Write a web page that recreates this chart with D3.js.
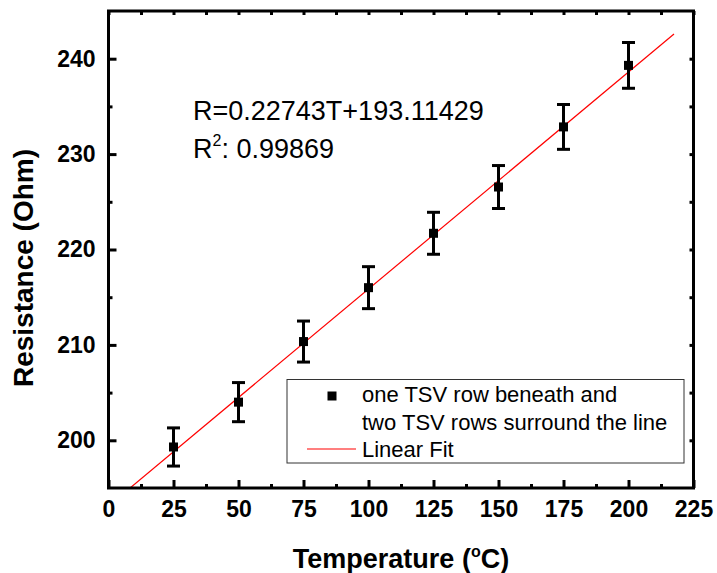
<!DOCTYPE html>
<html>
<head>
<meta charset="utf-8">
<script src="https://cdn.jsdelivr.net/npm/d3@7"></script>
<style>
  html, body { margin: 0; padding: 0; background: #fff; }
  svg { display: block; font-family: "Liberation Sans", Arial, sans-serif; }
</style>
</head>
<body>
<svg id="chart" width="717" height="573"></svg>
<script>
// Measured resistance vs. temperature with error bars
const temperatures = [25, 50, 75, 100, 125, 150, 175, 200];
const resistances  = [199.3, 204.0, 210.35, 216.0, 221.7, 226.55, 232.85, 239.3];
const errors       = [2.0, 2.05, 2.15, 2.2, 2.2, 2.25, 2.35, 2.4];

// Linear fit coefficients
const fitSlope = 0.22743;
const fitIntercept = 193.11429;
const fitRange = [0, 217.5];

const xTicks = [0, 25, 50, 75, 100, 125, 150, 175, 200, 225];
const xMinorTicks = [12.5, 37.5, 62.5, 87.5, 112.5, 137.5, 162.5, 187.5, 212.5];
const yTicks = [200, 210, 220, 230, 240];
const yMinorTicks = [205, 215, 225, 235];

const legendLabels = ["one TSV row beneath and", "two TSV rows surround the line", "Linear Fit"];
const fitLabel = "R=0.22743T+193.11429";
const r2Value = "0.99869";

const svg = d3.select("#chart");
const margin = { left: 108.5, top: 11, right: 717 - 693.5, bottom: 573 - 488 };
const W = 717, H = 573;
const x = d3.scaleLinear().domain([0, 225]).range([margin.left, W - margin.right]);
const y = d3.scaleLinear().domain([195, 245]).range([H - margin.bottom, margin.top]);

const tickFont = "bold 23px 'Liberation Sans', Arial, sans-serif";

// clip for plot contents
svg.append("defs").append("clipPath").attr("id", "plotClip")
  .append("rect")
  .attr("x", x(0)).attr("y", y(245))
  .attr("width", x(225) - x(0)).attr("height", y(195) - y(245));

// fit line
svg.append("line")
  .attr("clip-path", "url(#plotClip)")
  .attr("x1", x(fitRange[0])).attr("y1", y(fitIntercept + fitSlope * fitRange[0]))
  .attr("x2", x(fitRange[1])).attr("y2", y(fitIntercept + fitSlope * fitRange[1]))
  .attr("stroke", "#ff0000").attr("stroke-width", 1.2);

// error bars and markers
const pts = temperatures.map((t, i) => ({ t, r: resistances[i], e: errors[i] }));
const g = svg.append("g");
const capW = 6.5;
pts.forEach(d => {
  const cx = x(d.t);
  const yTop = y(d.r + d.e), yBot = y(d.r - d.e);
  g.append("line").attr("x1", cx).attr("x2", cx).attr("y1", yTop).attr("y2", yBot)
    .attr("stroke", "#000").attr("stroke-width", 3);
  g.append("line").attr("x1", cx - capW).attr("x2", cx + capW).attr("y1", yTop).attr("y2", yTop)
    .attr("stroke", "#000").attr("stroke-width", 3);
  g.append("line").attr("x1", cx - capW).attr("x2", cx + capW).attr("y1", yBot).attr("y2", yBot)
    .attr("stroke", "#000").attr("stroke-width", 3);
  g.append("rect").attr("x", cx - 4.5).attr("y", y(d.r) - 4.5)
    .attr("width", 9).attr("height", 9).attr("fill", "#000");
});

// axes: inward ticks
function styleAxis(sel) {
  sel.select(".domain").remove();
  sel.selectAll("line").attr("stroke", "#000").attr("stroke-width", 3);
}
const xAxis = svg.append("g").attr("transform", `translate(0,${y(195)})`)
  .call(d3.axisBottom(x).tickValues(xTicks).tickSizeInner(-8).tickSizeOuter(0).tickPadding(12.5));
styleAxis(xAxis);
xAxis.selectAll("text").style("font", tickFont).attr("fill", "#000");

const xMinor = svg.append("g").attr("transform", `translate(0,${y(195)})`)
  .call(d3.axisBottom(x).tickValues(xMinorTicks).tickSizeInner(-4).tickSizeOuter(0).tickFormat(""));
styleAxis(xMinor);

const yAxis = svg.append("g").attr("transform", `translate(${x(0)},0)`)
  .call(d3.axisLeft(y).tickValues(yTicks).tickSizeInner(-8).tickSizeOuter(0).tickPadding(13));
styleAxis(yAxis);
yAxis.selectAll("text").style("font", tickFont).attr("fill", "#000");

const yMinor = svg.append("g").attr("transform", `translate(${x(0)},0)`)
  .call(d3.axisLeft(y).tickValues(yMinorTicks).tickSizeInner(-4).tickSizeOuter(0).tickFormat(""));
styleAxis(yMinor);

// mirrored ticks on top and right
const xTop = svg.append("g").attr("transform", `translate(0,${y(245)})`)
  .call(d3.axisTop(x).tickValues(xTicks.concat(xMinorTicks)).tickSizeInner(-4).tickSizeOuter(0).tickFormat(""));
styleAxis(xTop);
const yRight = svg.append("g").attr("transform", `translate(${x(225)},0)`)
  .call(d3.axisRight(y).tickValues(yTicks.concat(yMinorTicks)).tickSizeInner(-4).tickSizeOuter(0).tickFormat(""));
styleAxis(yRight);

// frame
svg.append("rect")
  .attr("x", x(0)).attr("y", y(245))
  .attr("width", x(225) - x(0)).attr("height", y(195) - y(245))
  .attr("fill", "none").attr("stroke", "#000").attr("stroke-width", 3);

// axis titles
const xt = svg.append("text").attr("x", (x(0) + x(225)) / 2).attr("y", 568)
  .attr("text-anchor", "middle").style("font", "bold 27px 'Liberation Sans', Arial, sans-serif");
xt.append("tspan").text("Temperature (");
xt.append("tspan").text("o").attr("dy", -11).style("font-size", "16px");
xt.append("tspan").text("C)").attr("dy", 11);

svg.append("text")
  .attr("transform", `translate(33,268) rotate(-90)`)
  .attr("text-anchor", "middle")
  .style("font", "bold 28px 'Liberation Sans', Arial, sans-serif")
  .text("Resistance (Ohm)");

// fit equation
svg.append("text").attr("x", 193).attr("y", 120)
  .style("font", "27px 'Liberation Sans', Arial, sans-serif").text(fitLabel);
const r2 = svg.append("text").attr("x", 193).attr("y", 158)
  .style("font", "27px 'Liberation Sans', Arial, sans-serif");
r2.append("tspan").text("R");
r2.append("tspan").text("2").attr("dy", -12).style("font-size", "16px");
r2.append("tspan").text(": " + r2Value).attr("dy", 12);

// legend
const lg = svg.append("g");
lg.append("rect").attr("x", 287).attr("y", 379.5).attr("width", 397).attr("height", 83.5)
  .attr("fill", "#fff").attr("stroke", "#333").attr("stroke-width", 1);
lg.append("rect").attr("x", 327.5).attr("y", 391.5).attr("width", 9).attr("height", 9).attr("fill", "#000");
lg.append("line").attr("x1", 307).attr("x2", 356).attr("y1", 449).attr("y2", 449)
  .attr("stroke", "#ff0000").attr("stroke-width", 1.2);
const legendBaselines = [402, 429.5, 456.5];
legendLabels.forEach((t, i) => {
  lg.append("text").attr("x", 362).attr("y", legendBaselines[i])
    .style("font", "22px 'Liberation Sans', Arial, sans-serif").text(t);
});
</script>
</body>
</html>
